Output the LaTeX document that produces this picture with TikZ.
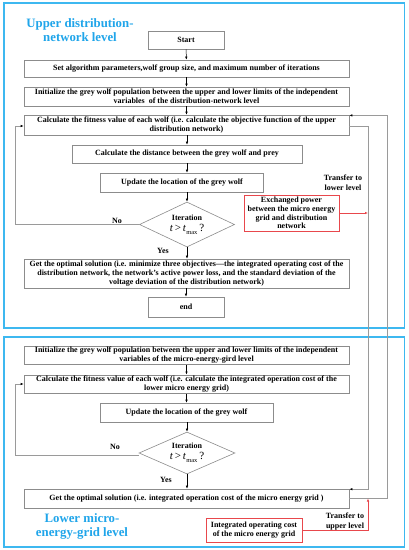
\documentclass[tikz,border=0pt]{standalone}
\usepackage{fontspec}
\setmainfont{Liberation Serif}
\usetikzlibrary{shapes.geometric,arrows.meta,calc}
\definecolor{frameblue}{HTML}{3DB8F0}
\definecolor{titleblue}{HTML}{1FA5EA}
\definecolor{boxgrey}{HTML}{8C8C8C}
\definecolor{linegrey}{HTML}{9A9A9A}
\definecolor{redc}{HTML}{E8474C}
\tikzset{
  frame/.style={draw=frameblue,line width=1.3pt},
  flowbox/.style={draw=boxgrey,line width=0.6pt,fill=white,align=center,inner sep=1pt,
     font=\fontsize{8}{9}\selectfont\bfseries},
  decbox/.style={draw=boxgrey,line width=0.6pt,diamond,aspect=2.1,inner sep=0pt,align=center,
     font=\fontsize{8}{11}\selectfont\bfseries},
  redbox/.style={draw=redc,line width=0.8pt,align=center,inner sep=1pt,
     font=\fontsize{8}{8.7}\selectfont\bfseries},
  title/.style={text=titleblue,align=center,font=\fontsize{12.8}{14}\selectfont\bfseries},
  lab/.style={align=center,font=\fontsize{8}{10}\selectfont\bfseries},
  arr/.style={draw=black,line width=0.5pt,-{Latex[length=3pt,width=2.4pt]}},
  garr/.style={draw=linegrey,line width=0.6pt,-{Latex[length=3pt,width=2.4pt,color=black]}},
  gline/.style={draw=linegrey,line width=0.6pt},
  rarr/.style={draw=redc,line width=0.6pt,-{Latex[length=3pt,width=2.4pt]}},
}
\newcommand{\itcond}{{\fontsize{11}{11}\selectfont\mdseries\itshape t\/\upshape\,>\,\itshape t\/\upshape\raisebox{-0.5ex}{\fontsize{6.5}{6.5}\selectfont max}\,?}}
\begin{document}
\begin{tikzpicture}[x=1pt,y=-1pt]
\useasboundingbox (0,0) rectangle (409,550);
\fill[white] (0,0) rectangle (409,550);
% frames
\draw[frame] (4,3) rectangle (404.5,328);
\draw[frame] (4,337) rectangle (404.5,547);
% titles
\node[title] (t1) at (80,30) {Upper distribution-\\network level};
\node[title] (t2) at (82,526) {Lower micro-\\energy-grid level};
% upper flow
\node[flowbox,minimum width=76,minimum height=18] (start) at (186,40) {Start};
\node[flowbox,minimum width=325,minimum height=17] (set) at (186.5,68.5) {Set algorithm parameters,wolf group size, and maximum number of iterations};
\node[flowbox,minimum width=325,minimum height=19] (init) at (186.5,96.5) {Initialize the grey wolf population between the upper and lower limits of the independent\\variables \ of the distribution-network level};
\node[flowbox,minimum width=325,minimum height=20] (fit) at (186.5,125) {Calculate the fitness value of each wolf (i.e. calculate the objective function of the upper\\distribution network)};
\node[flowbox,minimum width=230,minimum height=18] (dist) at (187,154) {Calculate the distance between the grey wolf and prey};
\node[flowbox,minimum width=163,minimum height=19] (upd) at (182,182.5) {Update the location of the grey wolf};
\node[decbox,minimum width=95,minimum height=45] (dia) at (187,224.5) {Iteration\\\itcond};
\node[flowbox,minimum width=325,minimum height=29] (opt) at (186.5,273.5) {Get the optimal solution (i.e. minimize three objectives---the integrated operating cost of the\\distribution network, the network's active power loss, and the standard deviation of the\\voltage deviation of the distribution network)};
\node[flowbox,minimum width=76,minimum height=20] (end) at (186,307) {end};
\node[redbox,minimum width=95,minimum height=36] (red1) at (291.5,213) {Exchanged power\\between the micro energy\\grid and distribution\\network};
\node[lab] (tr1) at (343,183) {Transfer to\\lower level};
\node[lab] (no1) at (117,221) {No};
\node[lab] (yes1) at (163,250.5) {Yes};
% lower flow
\node[flowbox,minimum width=325,minimum height=18] (linit) at (186.5,355) {Initialize the grey wolf population between the upper and lower limits of the independent\\variables of the micro-energy-gird level};
\node[flowbox,minimum width=325,minimum height=18] (lfit) at (186.5,384) {Calculate the fitness value of each wolf (i.e. calculate the integrated operation cost of the\\lower micro energy grid)};
\node[flowbox,minimum width=173,minimum height=19] (lupd) at (186.5,412.5) {Update the location of the grey wolf};
\node[decbox,minimum width=96,minimum height=42] (ldia) at (187,453) {Iteration\\\itcond};
\node[flowbox,minimum width=325,minimum height=19] (lopt) at (186.5,498.5) {Get the optimal solution (i.e. integrated operation cost of the micro energy grid )};
\node[redbox,minimum width=96,minimum height=24] (red2) at (254,530) {Integrated operating cost\\of the micro energy grid};
\node[lab] (tr2) at (345,522) {Transfer to\\upper level};
\node[lab] (no2) at (115,447) {No};
\node[lab] (yes2) at (166,479.5) {Yes};
% helper coordinates
\coordinate (lx) at (15,0);
\coordinate (rx1) at (368,0);
\coordinate (rx2) at (387,0);
% main arrows
\draw[arr] (start) -- (set);
\draw[arr] (set) -- (init);
\draw[arr] (init) -- (fit);
\draw[arr] (fit.south -| dist.north) -- (dist);
\draw[arr] (dist.south) -- (dist.south |- upd.north);
\draw[arr] (dia.north |- upd.south) -- (dia.north);
\draw[arr] (dia.south) -- (dia.south |- opt.north);
\draw[arr] (opt.south -| end.north) -- (end);
\draw[arr] (linit) -- (lfit);
\draw[arr] (lfit.south -| lupd.north) -- (lupd);
\draw[arr] (lupd.south -| ldia.north) -- (ldia.north);
\draw[arr] (ldia.south) -- (ldia.south |- lopt.north);
% loops
\draw[garr] (dia.west) -- (dia.west -| lx) |- ($(fit.west)+(0,1)$);
\draw[garr] ($(ldia.west)+(0,2)$) -- ($(ldia.west -| lx)+(0,2)$) |- (lfit.west);
% inter-level connectors
\coordinate (fe) at ($(fit.east)+(0,1)$);
\coordinate (lne) at ($(lopt.north east)+(0,0.5)$);
\coordinate (lee) at ($(lopt.east)+(0,-0.5)$);
\coordinate (une) at ($(fit.north east)+(0,0.7)$);
\draw[garr] (fe) -- (fe -| rx1) -- (lne -| rx1) -- (lne);
\draw[garr] (lee) -- (lee -| rx2) -- (une -| rx2) -- (une);
\draw[rarr] (red1.east) -- (red1.east -| rx1);
\draw[rarr] (red2.east) -- (red2.east -| rx1) -- ($(lee -| rx1)+(0,0.5)$);
\end{tikzpicture}
\end{document}
